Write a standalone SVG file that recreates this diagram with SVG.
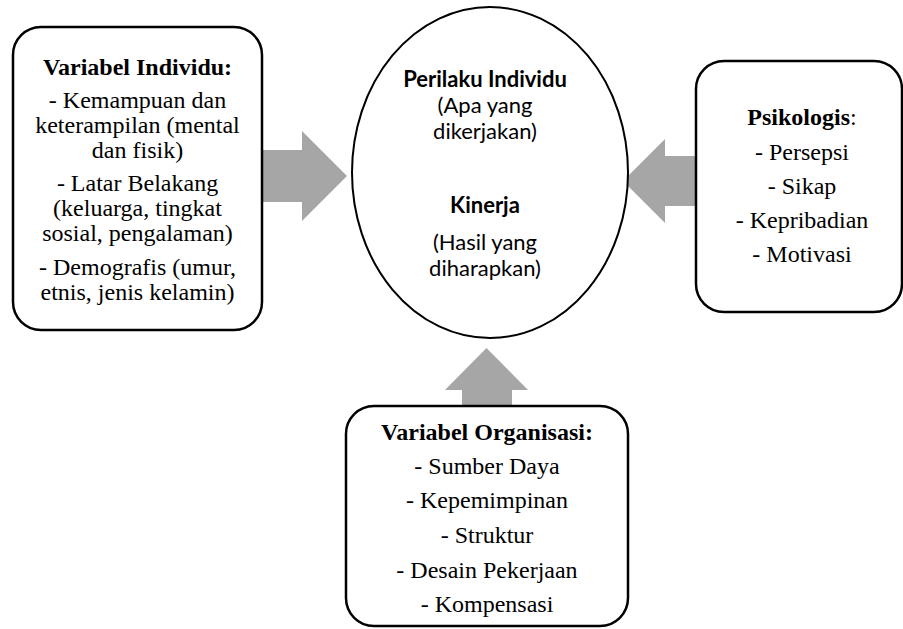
<svg xmlns="http://www.w3.org/2000/svg" width="903" height="629" viewBox="0 0 903 629">
  <style>
    .box { fill: #ffffff; stroke: #000000; stroke-width: 2.5; }
    .ell { fill: #ffffff; stroke: #000000; stroke-width: 2; }
    .arrow { fill: #a6a6a6; stroke: none; }
    .t { font-family: "Liberation Serif", "Times New Roman", serif; font-size: 24px; fill: #000000; text-anchor: middle; }
    .b { font-weight: bold; }
    .c { font-family: Lato, "Open Sans", sans-serif; font-size: 22px; fill: #000000; text-anchor: middle; }
  </style>
  <rect width="903" height="629" fill="#ffffff"/>

  <g id="connectors">
    <polygon class="arrow" points="262,150 302,150 302,131 347,176 302,221 302,202 262,202"/>
    <polygon class="arrow" points="697,156 665,156 665,139 623,181 665,223 665,206 697,206"/>
    <polygon class="arrow" points="462,407 462,390 445,390 486.5,348 528,390 512,390 512,407"/>
  </g>

  <g id="node-individu">
    <rect class="box" x="13" y="27" width="249" height="303" rx="28" ry="28"/>
    <text class="t b" x="137.5" y="75">Variabel Individu:</text>
    <text class="t" x="137.5" y="108">- Kemampuan dan</text>
    <text class="t" x="137.5" y="133">keterampilan (mental</text>
    <text class="t" x="137.5" y="158">dan fisik)</text>
    <text class="t" x="137.5" y="191">- Latar Belakang</text>
    <text class="t" x="137.5" y="216">(keluarga, tingkat</text>
    <text class="t" x="137.5" y="241">sosial, pengalaman)</text>
    <text class="t" x="137.5" y="275">- Demografis (umur,</text>
    <text class="t" x="137.5" y="300">etnis, jenis kelamin)</text>
  </g>

  <g id="node-kinerja">
    <ellipse class="ell" cx="490" cy="172.5" rx="138" ry="165.5"/>
    <text class="c b" x="485" y="87">Perilaku Individu</text>
    <text class="c" x="485" y="113">(Apa yang</text>
    <text class="c" x="485" y="139">dikerjakan)</text>
    <text class="c b" x="485" y="213">Kinerja</text>
    <text class="c" x="485" y="250">(Hasil yang</text>
    <text class="c" x="485" y="276">diharapkan)</text>
  </g>

  <g id="node-psikologis">
    <rect class="box" x="696" y="61" width="206" height="251" rx="28" ry="28"/>
    <text class="t" x="802" y="125"><tspan class="b">Psikologis</tspan>:</text>
    <text class="t" x="802" y="160">- Persepsi</text>
    <text class="t" x="802" y="194">- Sikap</text>
    <text class="t" x="802" y="228">- Kepribadian</text>
    <text class="t" x="802" y="262">- Motivasi</text>
  </g>

  <g id="node-organisasi">
    <rect class="box" x="346" y="406" width="282" height="220" rx="28" ry="28"/>
    <text class="t b" x="487" y="440">Variabel Organisasi:</text>
    <text class="t" x="487" y="474">- Sumber Daya</text>
    <text class="t" x="487" y="508">- Kepemimpinan</text>
    <text class="t" x="487" y="543">- Struktur</text>
    <text class="t" x="487" y="578">- Desain Pekerjaan</text>
    <text class="t" x="487" y="612">- Kompensasi</text>
  </g>
</svg>
